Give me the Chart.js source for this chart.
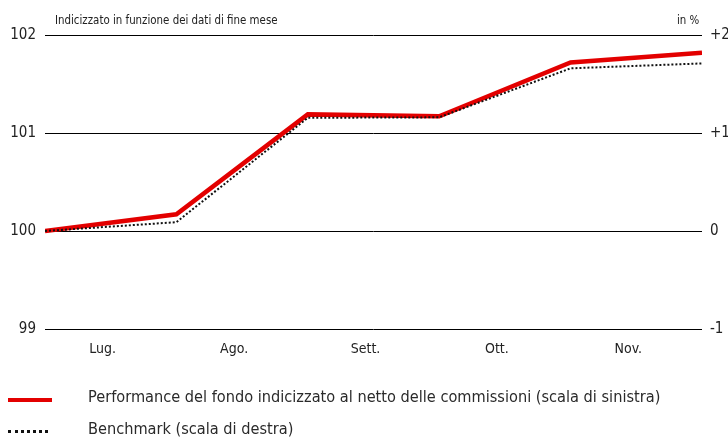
<!DOCTYPE html>
<html>
<head>
<meta charset="utf-8">
<script src="https://cdn.jsdelivr.net/npm/chart.js@4/dist/chart.umd.min.js"></script>
<style>
  body { margin: 0; background: #fff; font-family: "Liberation Sans Narrow", "DejaVu Sans Condensed", sans-serif; color: #222; }
  #wrap { position: relative; width: 728px; height: 437px; }
  canvas { position: absolute; left: 0; top: 0; }
  .note { position: absolute; font-size: 11.4px; top: 13px; }
  .leg { position: absolute; left: 0; font-size: 16.2px; color: #2a2a2a; }
  .leg span.sw { position: absolute; left: 8px; width: 44px; }
  .leg span.tx { position: absolute; left: 88px; white-space: nowrap; }
</style>
</head>
<body>
<div id="wrap">
  <canvas id="chart" width="728" height="437"></canvas>
  <div class="note" style="left:55px">Indicizzato in funzione dei dati di fine mese</div>
  <div class="note" style="left:677px">in %</div>
  <div class="leg" style="top:387px">
    <span class="sw" style="top:11px;border-top:4px solid #e30000"></span>
    <span class="tx">Performance del fondo indicizzato al netto delle commissioni (scala di sinistra)</span>
  </div>
  <div class="leg" style="top:419px">
    <span class="sw" style="top:11px;width:40px;border-top:3px dotted #111"></span>
    <span class="tx">Benchmark (scala di destra)</span>
  </div>
</div>
<script>
const months = ['Lug.', 'Ago.', 'Sett.', 'Ott.', 'Nov.'];
const points = [0, 1, 2, 3, 4, 5];
const fundValues = [100.0, 100.17, 101.19, 101.17, 101.72, 101.82];
const benchValues = [0.0, 0.09, 1.155, 1.16, 1.66, 1.71];

const ctx = document.getElementById('chart').getContext('2d');
const fontFamily = '"Liberation Sans Narrow", "DejaVu Sans Condensed", sans-serif';

new Chart(ctx, {
    type: 'line',
    data: {
        datasets: [{
            label: 'Benchmark (scala di destra)',
            data: points.map((x, i) => ({ x: x, y: benchValues[i] })),
            yAxisID: 'y2',
            borderColor: '#111',
            borderWidth: 2,
            borderDash: [2, 2],
            pointRadius: 0,
            tension: 0
        }, {
            label: 'Performance del fondo',
            data: points.map((x, i) => ({ x: x, y: fundValues[i] })),
            yAxisID: 'y',
            borderColor: '#e30000',
            borderWidth: 4.5,
            pointRadius: 0,
            tension: 0
        }]
    },
    options: {
        responsive: false,
        animation: false,
        layout: { padding: { top: 35, right: 0, left: 0, bottom: 0 } },
        plugins: { legend: { display: false }, tooltip: { enabled: false } },
        scales: {
            x: { type: 'linear', min: 0, max: 5, display: false },
            xm: {
                type: 'category',
                labels: months,
                position: 'bottom',
                offset: true,
                grid: { display: false },
                border: { display: false },
                ticks: { color: '#222', font: { family: fontFamily, size: 14 }, padding: 4, labelOffset: -8 },
                afterFit: (s) => { s.height = 108; }
            },
            y: {
                position: 'left',
                min: 99, max: 102,
                ticks: { stepSize: 1, color: '#222', font: { family: fontFamily, size: 15 }, padding: 9 },
                grid: { color: '#000', lineWidth: 1, drawTicks: false },
                border: { display: false },
                afterFit: (s) => { s.width = 45; }
            },
            y2: {
                position: 'right',
                min: -1, max: 2,
                ticks: {
                    stepSize: 1, color: '#222', font: { family: fontFamily, size: 15 }, padding: 8,
                    callback: (v) => v > 0 ? '+' + v : String(v)
                },
                grid: { display: false, drawTicks: false },
                border: { display: false },
                afterFit: (s) => { s.width = 26; }
            }
        }
    }
});
</script>
</body>
</html>
